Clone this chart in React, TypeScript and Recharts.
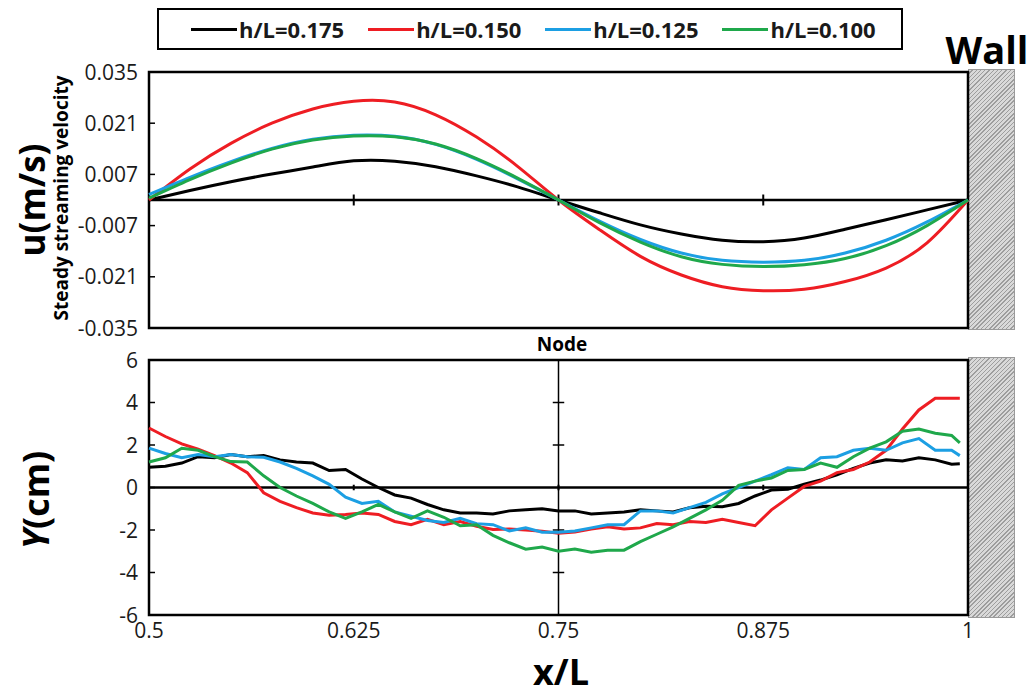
import React from "react";
import { LineChart, Line, XAxis, YAxis, ReferenceLine, ReferenceArea } from "recharts";

const FONT = "'Open Sans', 'Noto Sans', sans-serif";

// series names + colours
const SERIES = ["h/L=0.175", "h/L=0.150", "h/L=0.125", "h/L=0.100"];
const COLORS = ["#000000", "#ee1d23", "#1c9fe3", "#1fa84b"];
const KEYS = ["a", "b", "c", "d"];

// top panel: steady streaming velocity u (m/s)
const X_TOP = [0.5, 0.525, 0.55, 0.575, 0.6, 0.625, 0.65, 0.675, 0.7, 0.725, 0.75, 0.775, 0.8, 0.825, 0.85, 0.875, 0.9, 0.925, 0.95, 0.975, 1.0];
const U_175 = [0, 0.0026, 0.005, 0.0071, 0.009, 0.0107, 0.0106, 0.0091, 0.0066, 0.0036, 0, -0.0035, -0.0068, -0.0093, -0.011, -0.0114, -0.0104, -0.008, -0.0054, -0.0027, 0];
const U_150 = [0, 0.0085, 0.0155, 0.021, 0.0249, 0.027, 0.0268, 0.0233, 0.0172, 0.0092, 0, -0.0081, -0.0154, -0.0205, -0.0237, -0.0248, -0.0244, -0.0223, -0.0186, -0.0117, 0];
const U_125 = [0.0015, 0.0062, 0.0105, 0.0141, 0.0166, 0.0177, 0.0174, 0.0152, 0.0111, 0.0058, 0, -0.0058, -0.0108, -0.0145, -0.0165, -0.017, -0.0165, -0.0145, -0.011, -0.006, 0];
const U_100 = [0.0005, 0.0056, 0.0101, 0.0139, 0.0164, 0.0175, 0.0173, 0.0153, 0.0113, 0.006, 0, -0.0062, -0.0115, -0.0155, -0.0176, -0.0182, -0.0177, -0.016, -0.0125, -0.007, 0];
const U_TICKS = [-0.035, -0.021, -0.007, 0.007, 0.021, 0.035];

// bottom panel: Y (cm)
const X_BOT = [
  0.5, 0.51, 0.52, 0.53, 0.54, 0.55, 0.56, 0.57, 0.58, 0.59, 0.6, 0.61, 0.62, 0.63, 0.64, 0.65, 0.66, 0.67, 0.68, 0.69,
  0.7, 0.71, 0.72, 0.73, 0.74, 0.75, 0.76, 0.77, 0.78, 0.79, 0.8, 0.81, 0.82, 0.83, 0.84, 0.85, 0.86, 0.87, 0.88, 0.89,
  0.9, 0.91, 0.92, 0.93, 0.94, 0.95, 0.96, 0.97, 0.98, 0.99, 0.995,
];
const Y_175 = [
  0.95, 1.0, 1.15, 1.45, 1.4, 1.55, 1.45, 1.5, 1.3, 1.2, 1.15, 0.8, 0.85, 0.4, 0.0, -0.35, -0.5, -0.8, -1.05, -1.2,
  -1.2, -1.25, -1.1, -1.05, -1.0, -1.1, -1.1, -1.25, -1.2, -1.15, -1.05, -1.1, -1.15, -0.95, -0.88, -0.9, -0.75, -0.4, -0.12, -0.08,
  0.15, 0.35, 0.6, 0.9, 1.15, 1.3, 1.25, 1.4, 1.3, 1.1, 1.12,
];
const Y_150 = [
  2.8, 2.4, 2.05, 1.8, 1.5, 1.15, 0.7, -0.25, -0.65, -0.95, -1.2, -1.3, -1.27, -1.2, -1.27, -1.6, -1.75, -1.5, -1.75, -1.6,
  -1.82, -1.98, -1.95, -2.0, -2.06, -2.15, -2.1, -1.95, -1.85, -1.95, -1.9, -1.7, -1.75, -1.6, -1.65, -1.5, -1.65, -1.8, -1.05, -0.5,
  0.05, 0.3, 0.7, 0.85, 1.2, 1.75, 2.75, 3.65, 4.2, 4.2, 4.2,
];
const Y_125 = [
  1.85, 1.6, 1.4, 1.55, 1.45, 1.55, 1.45, 1.42, 1.2, 0.9, 0.55, 0.15, -0.45, -0.75, -0.65, -1.15, -1.35, -1.55, -1.65, -1.45,
  -1.7, -1.75, -2.05, -1.9, -2.1, -2.1, -2.05, -1.9, -1.75, -1.75, -1.1, -1.1, -1.2, -0.95, -0.7, -0.3, 0.0, 0.3, 0.6, 0.93,
  0.85, 1.4, 1.45, 1.75, 1.85, 1.75, 2.1, 2.3, 1.75, 1.75, 1.5,
];
const Y_100 = [
  1.2, 1.4, 1.85, 1.75, 1.45, 1.22, 1.2, 0.55, 0.0, -0.4, -0.75, -1.15, -1.45, -1.15, -0.8, -1.15, -1.45, -1.1, -1.4, -1.8,
  -1.75, -2.25, -2.6, -2.9, -2.8, -3.0, -2.9, -3.05, -2.95, -2.95, -2.55, -2.2, -1.85, -1.45, -1.05, -0.6, 0.1, 0.3, 0.45, 0.8,
  0.85, 1.15, 0.95, 1.45, 1.85, 2.15, 2.65, 2.75, 2.55, 2.45, 2.1,
];
const Y_TICKS = [-6, -4, -2, 0, 2, 4, 6];
const X_TICKS = [0.5, 0.625, 0.75, 0.875, 1];
const NODE_TICKS = [0.625, 0.75, 0.875];
const AXIS_TICKS = [-4, -2, 2, 4];

const topRows = X_TOP.map((x, i) => ({ x, a: U_175[i], b: U_150[i], c: U_125[i], d: U_100[i] }));
const botRows = X_BOT.map((x, i) => ({ x, a: Y_175[i], b: Y_150[i], c: Y_125[i], d: Y_100[i] }));

const LeftTick = (props: any) => {
  const { x, y, payload, fmt } = props;
  return (
    <g>
      <line x1={x + 11} x2={x + 17} y1={y} y2={y} stroke="#000" strokeWidth={1.5} />
      <text x={x} y={y} dy="0.36em" textAnchor="end" fontSize={21} fill="#1a1a1a" fontFamily={FONT}>
        {fmt(payload.value)}
      </text>
    </g>
  );
};

const hatch: React.CSSProperties = {
  position: "absolute",
  left: 968,
  width: 47,
  height: 261,
  boxSizing: "border-box",
  border: "1px solid #9a9a9a",
  background: "repeating-linear-gradient(135deg, #d9d9d9 0px, #d9d9d9 2px, #9d9d9d 2px, #9d9d9d 3px)",
};

const vLabel = (cx: number, cy: number, size: number): React.CSSProperties => ({
  position: "absolute",
  left: cx,
  top: cy,
  transform: "translate(-50%, -50%) rotate(-90deg)",
  whiteSpace: "nowrap",
  fontSize: size,
  fontWeight: 700,
  lineHeight: 1,
  fontFamily: FONT,
  color: "#000",
});

const hLabel = (cx: number, cy: number, size: number): React.CSSProperties => ({
  position: "absolute",
  left: cx,
  top: cy,
  transform: "translate(-50%, -50%)",
  whiteSpace: "nowrap",
  fontSize: size,
  fontWeight: 700,
  lineHeight: 1,
  fontFamily: FONT,
  color: "#000",
});

export default function App() {
  return (
    <div style={{ position: "relative", width: 1030, height: 698, background: "#fff", fontFamily: FONT, overflow: "hidden" }}>
      <style>{`body{margin:0}`}</style>

      <div style={{ ...hatch, top: 69 }} />
      <div style={{ ...hatch, top: 357 }} />

      <div style={{ position: "absolute", left: 0, top: 0 }}>
        <LineChart width={1030} height={350} data={topRows} margin={{ top: 72, right: 62, bottom: 22, left: 89 }}>
          <XAxis dataKey="x" type="number" domain={[0.5, 1]} hide />
          <YAxis
            type="number"
            domain={[-0.035, 0.035]}
            ticks={U_TICKS}
            interval={0}
            width={60}
            axisLine={false}
            tickLine={false}
            tickSize={0}
            tickMargin={11}
            tick={(p: any) => <LeftTick {...p} fmt={(v: number) => v.toFixed(3)} />}
          />
          <ReferenceArea x1={0.5} x2={1} y1={-0.035} y2={0.035} fill="none" stroke="#000" strokeWidth={2.5} />
          <ReferenceLine y={0} stroke="#000" strokeWidth={2.5} />
          {NODE_TICKS.map((t) => (
            <ReferenceLine key={t} segment={[{ x: t, y: -0.0015 }, { x: t, y: 0.0015 }]} stroke="#000" strokeWidth={2} />
          ))}
          {KEYS.map((k, i) => (
            <Line key={k} dataKey={k} type="natural" stroke={COLORS[i]} strokeWidth={3} dot={false} isAnimationActive={false} />
          ))}
        </LineChart>
      </div>

      <div style={{ position: "absolute", left: 0, top: 340 }}>
        <LineChart width={1030} height={358} data={botRows} margin={{ top: 20, right: 62, bottom: 53, left: 89 }}>
          <XAxis
            dataKey="x"
            type="number"
            domain={[0.5, 1]}
            ticks={X_TICKS}
            interval={0}
            height={30}
            axisLine={false}
            tickLine={false}
            tickSize={0}
            tickMargin={8}
            tickFormatter={(v: number) => String(v)}
            tick={{ fontSize: 21, fill: "#1a1a1a", fontFamily: FONT }}
          />
          <YAxis
            type="number"
            domain={[-6, 6]}
            ticks={Y_TICKS}
            interval={0}
            width={60}
            axisLine={false}
            tickLine={false}
            tickSize={0}
            tickMargin={11}
            tick={(p: any) => <LeftTick {...p} fmt={(v: number) => String(v)} />}
          />
          <ReferenceArea x1={0.5} x2={1} y1={-6} y2={6} fill="none" stroke="#000" strokeWidth={2.5} />
          <ReferenceLine y={0} stroke="#000" strokeWidth={2.5} />
          <ReferenceLine x={0.75} stroke="#000" strokeWidth={1.5} />
          {NODE_TICKS.map((t) => (
            <ReferenceLine key={"n" + t} segment={[{ x: t, y: -0.13 }, { x: t, y: 0.13 }]} stroke="#000" strokeWidth={2} />
          ))}
          {AXIS_TICKS.map((t) => (
            <ReferenceLine key={"a" + t} segment={[{ x: 0.7465, y: t }, { x: 0.7535, y: t }]} stroke="#000" strokeWidth={1.5} />
          ))}
          {KEYS.map((k, i) => (
            <Line key={k} dataKey={k} type="linear" stroke={COLORS[i]} strokeWidth={3} dot={false} isAnimationActive={false} />
          ))}
        </LineChart>
      </div>

      {/* legend */}
      <div
        style={{
          position: "absolute",
          left: 157,
          top: 8,
          width: 746,
          height: 42,
          boxSizing: "border-box",
          border: "2px solid #000",
          display: "flex",
          alignItems: "center",
          paddingLeft: 32,
          gap: 24,
        }}
      >
        {SERIES.map((s, i) => (
          <div key={s} style={{ display: "flex", alignItems: "center" }}>
            <span style={{ display: "inline-block", width: 46, height: 3, background: COLORS[i], marginRight: 2 }} />
            <span style={{ fontSize: 22, fontWeight: 700, color: "#1a1a1a", lineHeight: 1 }}>{s}</span>
          </div>
        ))}
      </div>

      <div style={hLabel(987, 49, 38)}>Wall</div>
      <div style={hLabel(562, 344, 19)}>Node</div>
      <div style={hLabel(561, 672, 36)}>x/L</div>
      <div style={vLabel(31, 200, 35)}>u(m/s)</div>
      <div style={vLabel(61, 198, 19)}>Steady streaming velocity</div>
      <div style={vLabel(36, 500, 36)}>
        <i>Y</i>(cm)
      </div>
    </div>
  );
}
